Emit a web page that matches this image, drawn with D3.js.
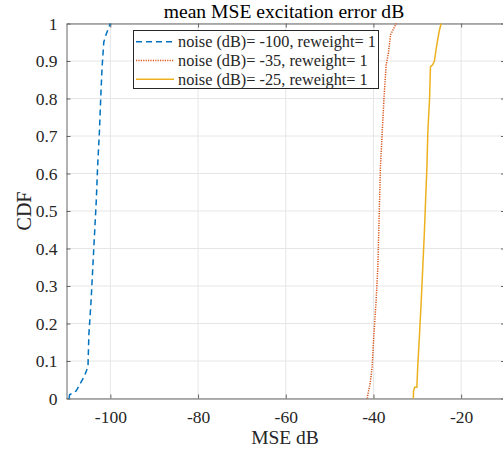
<!DOCTYPE html>
<html><head><meta charset="utf-8">
<script src="https://cdn.jsdelivr.net/npm/d3@7/dist/d3.min.js"></script>
<style>body{margin:0;background:#fff}svg{display:block}svg text{font-family:'Liberation Serif','Times New Roman',serif}</style>
</head><body><div id="chart"></div>
<script>
const title = "mean MSE excitation error dB";
const xLabel = "MSE dB";
const yLabel = "CDF";
const xTicks = [-100, -80, -60, -40, -20];
const yTicks = [0, 0.1, 0.2, 0.3, 0.4, 0.5, 0.6, 0.7, 0.8, 0.9, 1];
const seriesNames = ["noise (dB)= -100, reweight= 1", "noise (dB)= -35, reweight= 1", "noise (dB)= -25, reweight= 1"];
const blueX = [-109.4, -109.3, -107.8, -105.9, -105.1, -104.9, -104.4, -104.0, -103.6, -103.2, -102.9, -102.5, -102.2, -101.9, -101.5, -101.0, -100.0];
const blueY = [0, 0.01, 0.02, 0.06, 0.085, 0.17, 0.26, 0.35, 0.44, 0.53, 0.62, 0.71, 0.8, 0.88, 0.95, 0.97, 1];
const redX = [-41.4, -41.3, -40.75, -40.3, -39.9, -39.4, -39.0, -38.8, -38.6, -38.4, -38.0, -37.6, -37.1, -36.6, -36.1, -34.8];
const redY = [0, 0.01, 0.04, 0.085, 0.17, 0.26, 0.35, 0.44, 0.53, 0.62, 0.71, 0.8, 0.89, 0.92, 0.97, 1];
const orangeX = [-30.9, -30.87, -30.6, -30.1, -29.9, -29.5, -29.1, -28.75, -28.4, -28.1, -27.8, -27.6, -27.2, -27.0, -26.5, -26.1, -25.6, -25.0, -24.55];
const orangeY = [0, 0.02, 0.03, 0.03, 0.085, 0.17, 0.26, 0.35, 0.44, 0.53, 0.62, 0.71, 0.8, 0.885, 0.89, 0.9, 0.94, 0.98, 1];
const colors = ["#0072BD", "#D95319", "#EDB120"];
const dashes = ["6,4", "1.2,1.2", null];

const W = 503, H = 452;
const m = {left: 66.5, right: -2, top: 23.5, bottom: 53.5};
const FONT = "'Liberation Serif', 'Times New Roman', serif";
const svg = d3.select("#chart").append("svg").attr("width", W).attr("height", H)
  .attr("font-family", FONT);
const x = d3.scaleLinear().domain([-110, -10]).range([m.left, W - m.right]);
const y = d3.scaleLinear().domain([0, 1]).range([H - m.bottom, m.top]);

// grid
const g = svg.append("g");
g.selectAll("line.gx").data(xTicks).join("line")
  .attr("x1", d => x(d)).attr("x2", d => x(d)).attr("y1", y(0)).attr("y2", y(1))
  .attr("stroke", "#e6e6e6").attr("stroke-width", 1);
g.selectAll("line.gy").data(yTicks).join("line")
  .attr("x1", x(-110)).attr("x2", x(-10)).attr("y1", d => y(d)).attr("y2", d => y(d))
  .attr("stroke", "#e6e6e6").attr("stroke-width", 1);

const axCol = "#666";
const xAxis = svg.append("g").attr("transform", `translate(0,${y(0)})`)
  .call(d3.axisBottom(x).tickValues(xTicks).tickSizeInner(-4).tickSizeOuter(0).tickPadding(12).tickFormat(d => d));
const xAxisTop = svg.append("g").attr("transform", `translate(0,${y(1)})`)
  .call(d3.axisTop(x).tickValues(xTicks).tickSizeInner(-4).tickSizeOuter(0).tickFormat(""));
const yAxis = svg.append("g").attr("transform", `translate(${x(-110)},0)`)
  .call(d3.axisLeft(y).tickValues(yTicks).tickSizeInner(-4).tickSizeOuter(0).tickPadding(9).tickFormat(d => d));
const yAxisR = svg.append("g").attr("transform", `translate(${x(-10)},0)`)
  .call(d3.axisRight(y).tickValues(yTicks).tickSizeInner(-4).tickSizeOuter(0).tickFormat(""));
[xAxis, xAxisTop, yAxis, yAxisR].forEach(a => {
  a.attr("font-family", FONT).attr("font-size", 17.5);
  a.select(".domain").attr("stroke", axCol);
  a.selectAll(".tick line").attr("stroke", axCol);
  a.selectAll("text").attr("fill", "#262626").attr("font-family", FONT)
    .style("font-size", "17.5px");
});

const series = [[blueX, blueY], [redX, redY], [orangeX, orangeY]];
const line = d3.line().x(d => x(d[0])).y(d => y(d[1]));
series.forEach((s, i) => {
  const pts = s[0].map((v, k) => [v, s[1][k]]);
  svg.append("path").datum(pts).attr("d", line).attr("fill", "none")
    .attr("stroke", colors[i]).attr("stroke-width", 1.5)
    .attr("stroke-dasharray", dashes[i]);
});

// legend
const lg = svg.append("g");
lg.append("rect").attr("x", 133.5).attr("y", 30.5).attr("width", 245).attr("height", 58)
  .attr("fill", "#fff").attr("stroke", "#262626").attr("stroke-width", 1);
seriesNames.forEach((n, i) => {
  const yy = 41.8 + i * 18.7;
  lg.append("line").attr("x1", 136).attr("x2", 174).attr("y1", yy).attr("y2", yy)
    .attr("stroke", colors[i]).attr("stroke-width", 1.5).attr("stroke-dasharray", dashes[i]);
  lg.append("text").attr("x", 178).attr("y", yy + 5.5).text(n)
    .style("font-size", "16.3px").attr("fill", "#262626");
});

svg.append("text").attr("x", 284).attr("y", 18).attr("text-anchor", "middle")
  .style("font-size", "19.6px").attr("fill", "#000").text(title);
svg.append("text").attr("x", 285).attr("y", 444).attr("text-anchor", "middle")
  .style("font-size", "19.5px").attr("fill", "#262626").text(xLabel);
svg.append("text").attr("transform", `translate(31,${(y(0) + y(1)) / 2}) rotate(-90)`)
  .attr("text-anchor", "middle").style("font-size", "20px").attr("fill", "#262626").text(yLabel);
</script></body></html>
